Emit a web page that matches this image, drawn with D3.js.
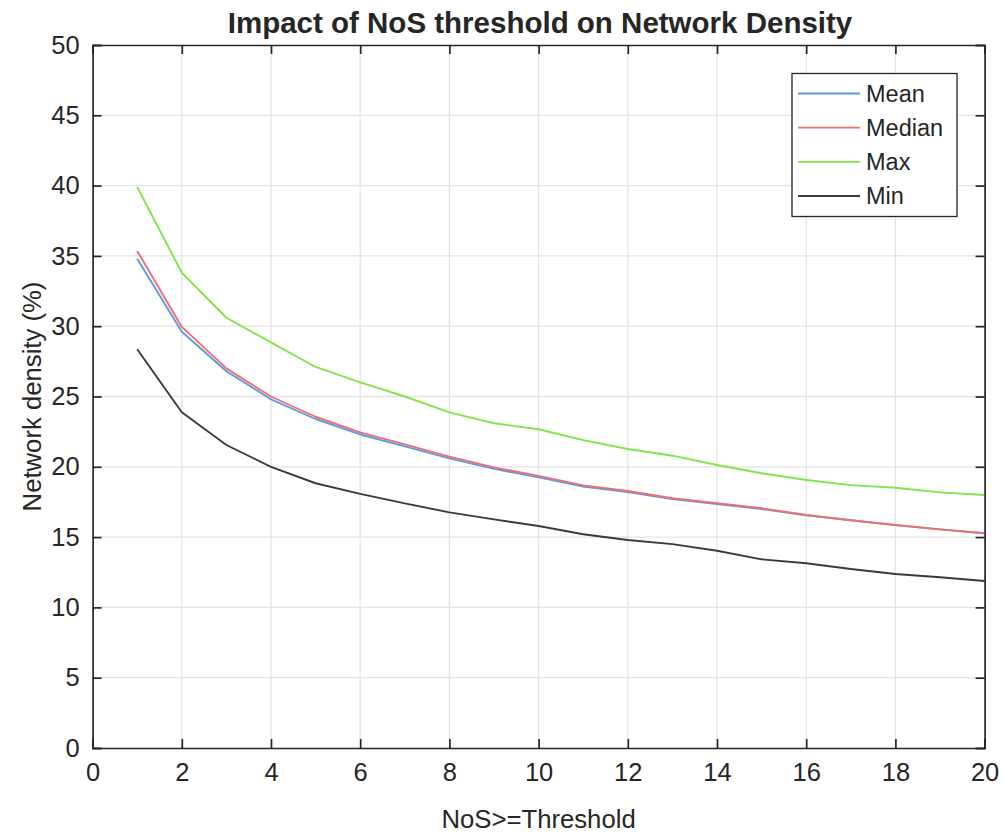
<!DOCTYPE html>
<html>
<head>
<meta charset="utf-8">
<script src="https://cdn.jsdelivr.net/npm/d3@7"></script>
<style>
  body { margin: 0; background: #fff; }
  svg text { font-family: "Liberation Sans", Arial, Helvetica, sans-serif; fill: #262626; }
</style>
</head>
<body>
<svg id="chart"></svg>
<script>
// thresholds and densities (%)
const thresholds = [1,2,3,4,5,6,7,8,9,10,11,12,13,14,15,16,17,18,19,20];
const meanVals   = [34.8,29.6,26.8,24.8,23.4,22.3,21.45,20.6,19.85,19.25,18.6,18.2,17.7,17.35,17.0,16.55,16.2,15.85,15.55,15.27];
const medianVals = [35.35,29.95,27.0,25.0,23.56,22.45,21.6,20.72,19.96,19.35,18.68,18.28,17.76,17.41,17.05,16.57,16.2,15.86,15.55,15.27];
const maxVals    = [39.9,33.8,30.6,28.85,27.1,26.0,25.0,23.87,23.1,22.67,21.9,21.27,20.79,20.13,19.54,19.06,18.7,18.51,18.18,17.99];
const minVals    = [28.36,23.88,21.55,20.0,18.83,18.07,17.4,16.76,16.26,15.79,15.2,14.79,14.5,14.03,13.42,13.14,12.73,12.38,12.14,11.88];
const seriesNames = ['Mean','Median','Max','Min'];
const xTicks = [0,2,4,6,8,10,12,14,16,18,20];
const yTicks = [0,5,10,15,20,25,30,35,40,45,50];

const series = [
  {name: 'Mean',   values: meanVals,   color: '#5b9ae0'},
  {name: 'Median', values: medianVals, color: '#ef6f6f'},
  {name: 'Max',    values: maxVals,    color: '#7fe64a'},
  {name: 'Min',    values: minVals,    color: '#3a3a3a'}
];

const width = 1005, height = 836;
const margin = {left: 92.6, right: 1005 - 984.6, top: 45, bottom: 836 - 748};

const svg = d3.select('#chart').attr('width', width).attr('height', height);

const x = d3.scaleLinear().domain([0, 20]).range([margin.left, width - margin.right]);
const y = d3.scaleLinear().domain([0, 50]).range([height - margin.bottom, margin.top]);

// grid
svg.append('g').selectAll('line.vg')
  .data(xTicks.slice(1, -1))
  .join('line')
  .attr('x1', d => x(d)).attr('x2', d => x(d))
  .attr('y1', y(0)).attr('y2', y(50))
  .attr('stroke', '#e3e3e3').attr('stroke-width', 1.3);
svg.append('g').selectAll('line.hg')
  .data(yTicks.slice(1, -1))
  .join('line')
  .attr('y1', d => y(d)).attr('y2', d => y(d))
  .attr('x1', x(0)).attr('x2', x(20))
  .attr('stroke', '#e3e3e3').attr('stroke-width', 1.3);

// lines
const line = d3.line()
  .x((d, i) => x(thresholds[i]))
  .y(d => y(d));

svg.append('g').selectAll('path')
  .data(series)
  .join('path')
  .attr('d', d => line(d.values))
  .attr('fill', 'none')
  .attr('stroke', d => d.color)
  .attr('stroke-width', 1.9)
  .attr('stroke-linejoin', 'round');

// axes, matlab style: ticks inward, box on
const tickLen = 9;
svg.append('g')
  .attr('transform', `translate(0,${y(0)})`)
  .call(d3.axisBottom(x).tickValues(xTicks).tickSize(-tickLen).tickPadding(15))
  .call(g => g.selectAll('text').attr('font-size', 25.5).style('font-family', 'Liberation Sans, Arial, sans-serif'));
svg.append('g')
  .attr('transform', `translate(0,${y(50)})`)
  .call(d3.axisTop(x).tickValues(xTicks).tickSize(-tickLen).tickFormat(''));
svg.append('g')
  .attr('transform', `translate(${x(0)},0)`)
  .call(d3.axisLeft(y).tickValues(yTicks).tickSize(-tickLen).tickPadding(13))
  .call(g => g.selectAll('text').attr('font-size', 25.5).style('font-family', 'Liberation Sans, Arial, sans-serif'));
svg.append('g')
  .attr('transform', `translate(${x(20)},0)`)
  .call(d3.axisRight(y).tickValues(yTicks).tickSize(-tickLen).tickFormat(''));

svg.selectAll('.domain').attr('stroke', '#262626').attr('stroke-width', 1.7);
svg.selectAll('.tick line').attr('stroke', '#262626').attr('stroke-width', 1.7);
svg.selectAll('.tick text').attr('fill', '#262626');

// titles
svg.append('text')
  .attr('x', 540).attr('y', 33)
  .attr('text-anchor', 'middle')
  .attr('font-size', 29.5).attr('font-weight', 'bold')
  .attr('fill', '#111')
  .text('Impact of NoS threshold on Network Density');

svg.append('text')
  .attr('x', (x(0) + x(20)) / 2).attr('y', 828)
  .attr('text-anchor', 'middle')
  .attr('font-size', 25.7)
  .text('NoS>=Threshold');

svg.append('text')
  .attr('transform', `translate(41,${(y(0) + y(50)) / 2}) rotate(-90)`)
  .attr('text-anchor', 'middle')
  .attr('font-size', 25.7)
  .text('Network density (%)');

// legend
const legend = svg.append('g');
legend.append('rect')
  .attr('x', 792).attr('y', 73.5)
  .attr('width', 165).attr('height', 143)
  .attr('fill', '#fff').attr('stroke', '#262626').attr('stroke-width', 1.3);

const legendY = d3.scalePoint().domain(seriesNames).range([93.5, 196]);
const rows = legend.selectAll('g.row')
  .data(series)
  .join('g')
  .attr('transform', d => `translate(0,${legendY(d.name)})`);
rows.append('line')
  .attr('x1', 798).attr('x2', 860)
  .attr('stroke', d => d.color).attr('stroke-width', 1.9);
rows.append('text')
  .attr('x', 866).attr('dy', '0.35em')
  .attr('font-size', 23.5)
  .text(d => d.name);
</script>
</body>
</html>
